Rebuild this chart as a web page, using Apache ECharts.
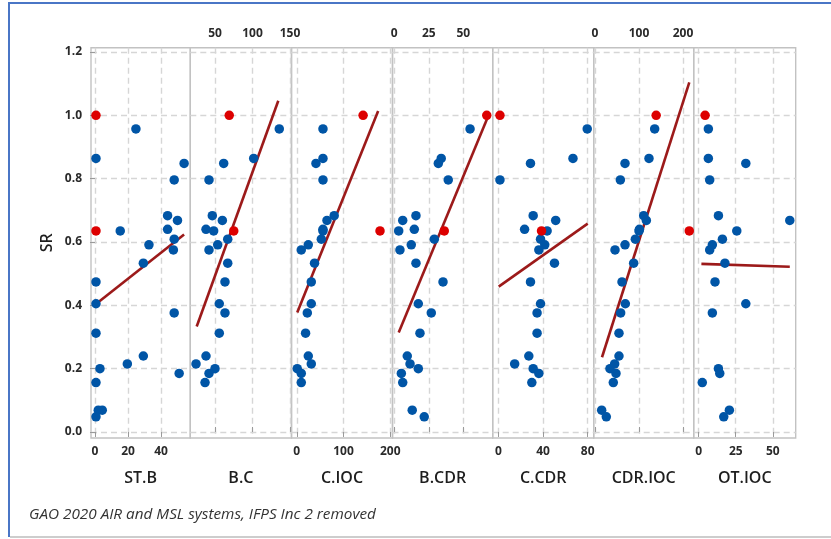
<!DOCTYPE html>
<html>
<head>
<meta charset="utf-8">
<script src="https://cdn.jsdelivr.net/npm/echarts@6/dist/echarts.min.js"></script>
<style>
  html, body { margin: 0; padding: 0; background: #ffffff; }
  #chart { width: 831px; height: 539px; }
</style>
</head>
<body>
<div id="chart"></div>
<script>
// Matrix plot: SR against seven predictors, one panel per predictor.
const variables = ['ST.B', 'B.C', 'C.IOC', 'B.CDR', 'C.CDR', 'CDR.IOC', 'OT.IOC'];

// Response, one entry per system (same order in every predictor array).
const SR = [1.000, 0.957, 0.864, 0.848, 0.796, 0.683, 0.668, 0.640, 0.635, 0.635,
            0.609, 0.591, 0.575, 0.533, 0.474, 0.405, 0.376, 0.312, 0.240, 0.215,
            0.200, 0.185, 0.156, 0.069, 0.069, 0.048];
// Systems drawn in red.
const flagged = [0, 8];

// Predictor values (null = not available for that system).
const ST_B    = [0.6, 24.8, 0.6, 54, 48, 44, 50, 44, 0.6, 15.3,
                 48, 32.7, 47.5, 29.3, 0.6, 0.6, 48, 0.6, 29.3, 19.6,
                 3, 51, 0.6, 2, 4.4, 0.6];
const B_C     = [69, 135.7, 101.6, 61.6, 42, 46.4, 59.8, 38, 75, 48.2,
                 67, 53.6, 42, 67, 63.3, 55.7, 63.3, 55.7, 38, 24.7,
                 50, 42, 36.7, null, null, null];
const C_IOC   = [141.8, 56, 56, 41, 56, 80, 64.6, 56, 178, 56,
                 52.5, 24.6, 9.6, 38, 31, 31, 22.5, 18.8, 24.6, 31,
                 1, 9.6, 9.6, null, null, null];
const B_CDR   = [67, 54.9, 34, 31.9, 39.1, 15.7, 6.1, 14.5, 36.2, 3.2,
                 29, 12.3, 4.1, 15.7, 35.3, 17.4, 26.8, 18.6, 9.4, 11.4,
                 17.4, 5.1, 6.1, 13, null, 21.7];
const C_CDR   = [1.3, 79.6, 66.8, 28.7, 1.3, 31.1, 51.3, 23.4, 38.6, 43.6,
                 37.7, 41.5, 36.2, 50.2, 28.7, 37.7, 34.6, 34.6, 27.2, 14.5,
                 31.1, 36.2, 29.9, null, null, null];
const CDR_IOC = [139, 135.6, 122.7, 68.2, 57.6, 110.6, 116.7, 101, 214.3, 100,
                 91.7, 68.2, 45.5, 87.9, 61.4, 68.9, 58.3, 54.5, 54.5, 44.7,
                 34, 47.7, 41.6, 15.2, null, 25.7];
const OT_IOC  = [4.3, 6.5, 6.5, 31.8, 7.4, 13.3, 61.5, null, null, 25.7,
                 16, 9.2, 7.4, 17.7, 11, 31.8, 9.2, null, null, null,
                 13.3, 14.2, 2.4, 20.7, null, 16.9];
const predictors = [ST_B, B_C, C_IOC, B_CDR, C_CDR, CDR_IOC, OT_IOC];

// Fitted regression line end points per panel.
const fitX0 = [0.6, 25.6, 1, 3.2, 0.2, 15.9, 1.8];
const fitY0 = [0.404, 0.333, 0.377, 0.314, 0.459, 0.236, 0.531];
const fitX1 = [54, 134.4, 174, 67.4, 80, 214.3, 61.5];
const fitY1 = [0.624, 1.046, 1.014, 0.991, 0.658, 1.104, 0.522];

// Tick labels.
const srTicks = [0, 0.2, 0.4, 0.6, 0.8, 1.0, 1.2];
const xTicks = [[0, 20, 40], [50, 100, 150], [0, 100, 200], [0, 25, 50],
                [0, 40, 80], [0, 100, 200], [0, 25, 50]];

const footnote = 'GAO 2020 AIR and MSL systems, IFPS Inc 2 removed';

// ---- layout ----
const edges = [91, 190.3, 291.5, 392.5, 492.7, 593.7, 693.7, 795.7];
const plotTop = 47.7, plotBottom = 438;
const xRange = [[-2.42, 57.76], [17.07, 152], [-11.3, 204.7], [-1.3, 71.3],
                [-5.2, 85.4], [-2.95, 224.3], [-3.4, 65.5]];
const yRange = [-0.019, 1.2136];
const tickSide = ['bottom', 'top', 'bottom', 'top', 'bottom', 'top', 'bottom'];

const FONT = "'Open Sans', 'Noto Sans', sans-serif";
const BLUE = '#0055a6';
const RED = '#dd0000';
const FIT = '#9c1a1a';
const gridDash = { color: '#d6d6d6', width: 1.4, type: [6, 4] };
const tickStyle = { color: '#9a9a9a', width: 1 };
const labelStyle = { color: '#2a2a2a', fontSize: 12, fontWeight: 'bold', fontFamily: FONT };

const grids = [], xAxes = [], yAxes = [], series = [], texts = [];

variables.forEach((name, i) => {
  grids.push({
    left: edges[i], top: plotTop,
    width: edges[i + 1] - edges[i], height: plotBottom - plotTop,
    show: true, borderColor: '#c2c2c2', borderWidth: 1.4,
    backgroundColor: 'transparent'
  });
  xAxes.push({
    gridIndex: i, type: 'value', position: tickSide[i],
    min: xRange[i][0], max: xRange[i][1],
    axisLine: { show: false },
    axisTick: { show: true, customValues: xTicks[i], length: 5, lineStyle: tickStyle },
    axisLabel: Object.assign({ customValues: xTicks[i], margin: 8 }, labelStyle),
    splitLine: { show: true, lineStyle: gridDash }
  });
  yAxes.push({
    gridIndex: i, type: 'value', min: yRange[0], max: yRange[1],
    axisLine: { show: false },
    axisTick: { show: i === 0, customValues: srTicks, length: 5, lineStyle: tickStyle },
    axisLabel: Object.assign({
      show: i === 0, customValues: srTicks, margin: 9,
      formatter: v => v.toFixed(1)
    }, labelStyle),
    splitLine: { show: true, lineStyle: gridDash }
  });

  const xs = predictors[i];
  const blue = [], red = [];
  xs.forEach((x, k) => {
    if (x === null) return;
    (flagged.includes(k) ? red : blue).push([x, SR[k]]);
  });

  series.push({
    type: 'line', xAxisIndex: i, yAxisIndex: i, z: 2,
    data: [[fitX0[i], fitY0[i]], [fitX1[i], fitY1[i]]],
    showSymbol: false, silent: true,
    lineStyle: { color: FIT, width: 2.6 }
  });
  series.push({
    type: 'scatter', xAxisIndex: i, yAxisIndex: i, z: 3,
    data: blue, symbolSize: 9.5, itemStyle: { color: BLUE, opacity: 1 }
  });
  series.push({
    type: 'scatter', xAxisIndex: i, yAxisIndex: i, z: 4,
    data: red, symbolSize: 9.5, itemStyle: { color: RED, opacity: 1 }
  });

  texts.push({
    type: 'text', x: (edges[i] + edges[i + 1]) / 2, y: 478.5,
    style: {
      text: name, align: 'center', verticalAlign: 'middle',
      fill: '#1e1e1e', font: `600 16px ${FONT}`
    }
  });
});

// Axis title, footnote and page frame.
texts.push({
  type: 'text', x: 47, y: (plotTop + plotBottom) / 2, rotation: Math.PI / 2,
  style: { text: 'SR', align: 'center', verticalAlign: 'middle', fill: '#1e1e1e', font: `600 16px ${FONT}` }
});
texts.push({
  type: 'text', x: 29, y: 514.5,
  style: { text: footnote, align: 'left', verticalAlign: 'middle', fill: '#333333', font: `italic 15.3px ${FONT}` }
});
texts.push({ type: 'line', shape: { x1: 8, y1: 3, x2: 831, y2: 3 }, style: { stroke: '#4a76c6', lineWidth: 2 } });
texts.push({ type: 'line', shape: { x1: 9, y1: 3, x2: 9, y2: 537 }, style: { stroke: '#4a76c6', lineWidth: 2 } });
texts.push({ type: 'line', shape: { x1: 10, y1: 537, x2: 831, y2: 537 }, style: { stroke: '#cdcdcd', lineWidth: 2 } });

const chart = echarts.init(document.getElementById('chart'), null, { renderer: 'canvas' });
chart.setOption({
  animation: false,
  backgroundColor: '#ffffff',
  grid: grids,
  xAxis: xAxes,
  yAxis: yAxes,
  series: series,
  graphic: texts
});
</script>
</body>
</html>
